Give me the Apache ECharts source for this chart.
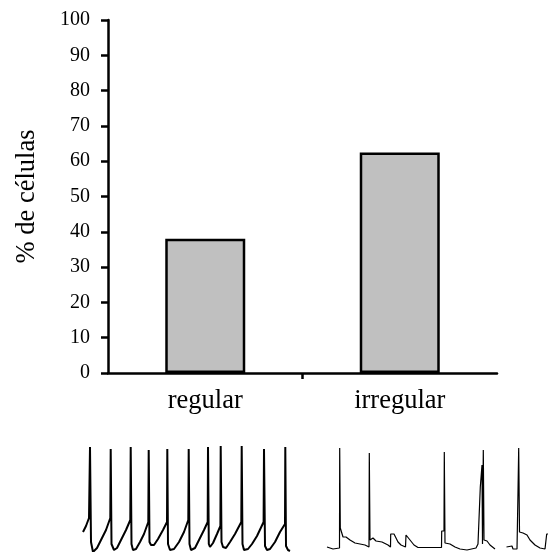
<!DOCTYPE html>
<html>
<head>
<meta charset="utf-8">
<script src="https://cdn.jsdelivr.net/npm/echarts@6/dist/echarts.min.js"></script>
<style>
  html, body { margin: 0; padding: 0; background: #fff; }
  #chart { width: 548px; height: 552px; }
</style>
</head>
<body>
<div id="chart"></div>
<script>
var categories = ['regular', 'irregular'];
var percentCells = [38, 62.5];
var yTicks = [0, 10, 20, 30, 40, 50, 60, 70, 80, 90, 100];

// example traces below the bars: [time, membrane potential] in arbitrary units
var regularTrace = [
    [83, 20], [86, 26], [89, 34], [90, 105], [91, 10], [93, 0], [97, 4], [101, 12], [106, 22], [110.3, 34],
    [110.7, 103], [111.5, 8], [114, 2], [117, 4], [121, 12], [126, 22], [130.3, 32],
    [130.7, 105], [131.5, 8], [133, 2], [136, 3], [140, 10], [144, 18], [148.3, 30],
    [148.7, 102], [149.5, 10], [151, 7], [154, 7], [158, 13], [163, 22], [167, 30],
    [167.3, 103], [168, 8], [170, 2], [174, 3], [179, 10], [184, 20], [188.3, 32],
    [188.7, 103], [189.5, 8], [191, 2], [195, 4], [199, 12], [204, 22], [207.7, 30],
    [208, 105], [208.8, 8], [210, 5], [213, 9], [217, 18], [220.4, 26],
    [220.7, 106], [221.5, 10], [223, 5], [226, 4], [230, 10], [235, 18], [241.3, 30],
    [241.7, 106], [242.5, 8], [244, 2], [248, 3], [252, 8], [257, 16], [263.6, 30],
    [264, 103], [265, 6], [267, 2], [270, 3], [275, 10], [280, 20], [285, 28],
    [285.3, 105], [286, 6], [288, 2], [290, 1]
];
var irregularTrace = [
    [327, 5], [333, 3], [339.5, 4], [339.7, 104], [340.3, 24], [342, 22], [343, 15], [346, 15],
    [350, 12], [355, 9], [365, 7], [369, 5], [369.3, 99], [370, 12], [373, 14], [376, 11],
    [382, 10], [388, 7], [390.5, 5], [390.7, 18], [394, 18], [396, 14], [398, 10], [401, 7],
    [405.5, 5], [406, 17], [408, 16], [410, 12], [414, 7], [418, 4.5], [441.5, 4.5], [441.7, 21],
    [444, 21], [444.3, 100], [445, 9], [450, 8], [455, 5], [460, 3], [467, 2], [476, 4],
    [478, 8], [480, 8], [480.3, 65], [482, 87], [482.5, 8], [483, 8], [483.3, 102], [484, 12],
    [487, 11], [490, 7], [495, 3], '-',
    [506.5, 5], [512, 6], [513, 3], [517, 3], [518, 60], [518.7, 104], [519.5, 20], [523, 19],
    [527, 17], [530, 12], [535, 7], [540, 4], [545, 3], [546.5, 3], [546.7, 18], [548, 18]
];

var serif = '"Liberation Serif", "Times New Roman", serif';
var chart = echarts.init(document.getElementById('chart'));
chart.setOption({
    animation: false,
    backgroundColor: '#fff',
    textStyle: { fontFamily: serif, color: '#000' },
    grid: [
        { left: 108, right: 51, top: 20, bottom: 179 },
        { left: 0, right: 0, top: 440, bottom: 0 }
    ],
    xAxis: [
        {
            type: 'category',
            data: categories,
            axisLine: { lineStyle: { color: '#000', width: 2.5 } },
            axisTick: { show: false },
            axisLabel: { color: '#000', fontFamily: serif, fontSize: 26.5, margin: 15 }
        },
        { type: 'value', gridIndex: 1, min: 0, max: 548, show: false },
        {
            // only carries the divider tick between the two categories
            type: 'value',
            position: 'bottom',
            min: 0,
            max: 2,
            axisLine: { show: false },
            axisLabel: { show: false },
            splitLine: { show: false },
            axisTick: { show: true, customValues: [1], length: 6, lineStyle: { color: '#000', width: 2.5 } }
        }
    ],
    yAxis: [
        {
            type: 'value',
            min: yTicks[0],
            max: yTicks[yTicks.length - 1],
            interval: 10,
            name: '% de células',
            nameLocation: 'middle',
            nameGap: 67,
            nameTextStyle: { color: '#000', fontFamily: serif, fontSize: 26.5 },
            axisLine: { show: true, lineStyle: { color: '#000', width: 2.5 } },
            axisTick: { show: true, length: 7, lineStyle: { color: '#000', width: 2.5 } },
            axisLabel: { color: '#000', fontFamily: serif, fontSize: 20, margin: 18 },
            splitLine: { show: false }
        },
        { type: 'value', gridIndex: 1, min: 0, max: 112, show: false }
    ],
    series: [
        {
            type: 'bar',
            data: percentCells,
            barWidth: 80,
            itemStyle: { color: '#c0c0c0', borderColor: '#000', borderWidth: 2.5 }
        },
        {
            type: 'line',
            xAxisIndex: 1,
            yAxisIndex: 1,
            data: regularTrace,
            showSymbol: false,
            lineStyle: { color: '#000', width: 2 }
        },
        {
            type: 'line',
            xAxisIndex: 1,
            yAxisIndex: 1,
            data: irregularTrace,
            showSymbol: false,
            connectNulls: false,
            lineStyle: { color: '#000', width: 1.2 }
        }
    ]
});
</script>
</body>
</html>
